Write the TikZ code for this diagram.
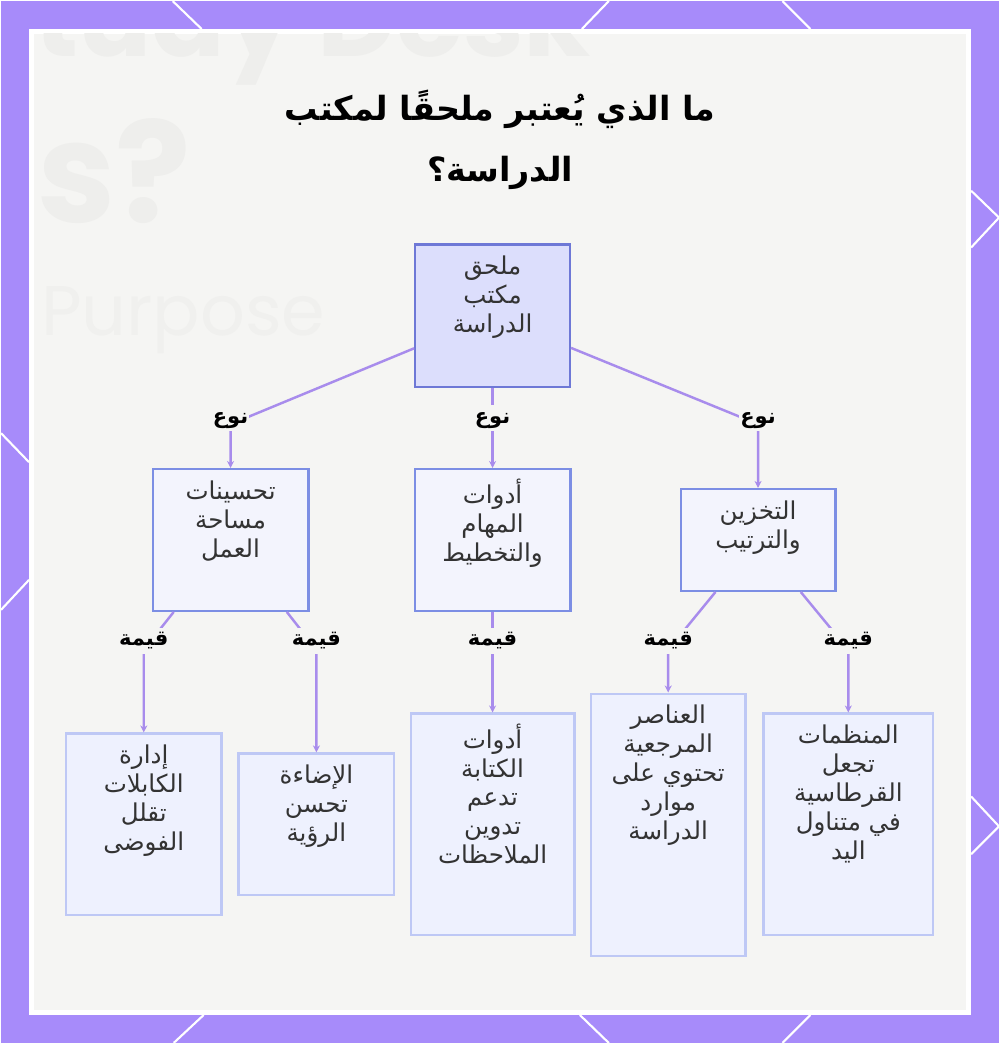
\documentclass[tikz,border=0pt]{standalone}
\usepackage{fontspec}
\usetikzlibrary{arrows.meta}
\newfontfamily\arabicfont[Script=Arabic]{DejaVu Sans}
\newfontfamily\ghostfont{Poppins}
\TeXXeTstate=1
\newlength\px
\setlength\px{0.02cm}
\newcommand\ar[1]{\beginR #1\endR\strut}
\newcommand\cell[3]{\parbox[c][#2\px][t]{#1\px}{\centering\vspace*{10\px}#3}}
\definecolor{framepurple}{RGB}{167,139,250}
\definecolor{panelgray}{RGB}{245,245,243}
\definecolor{ghost}{RGB}{238,238,236}
\definecolor{ghostlight}{RGB}{240,240,238}
\definecolor{rootfill}{RGB}{220,222,252}
\definecolor{rootline}{RGB}{110,120,214}
\definecolor{midfill}{RGB}{243,244,253}
\definecolor{midline}{RGB}{124,142,228}
\definecolor{leaffill}{RGB}{238,241,254}
\definecolor{leafline}{RGB}{190,200,245}
\definecolor{linkpurple}{RGB}{168,140,236}
\definecolor{inktext}{RGB}{51,51,51}

\begin{document}
\begin{tikzpicture}[x=1\px,y=-1\px,
  box/.style={inner sep=0pt, line width=1.3pt, text=inktext,
    font=\arabicfont\fontsize{14}{16.5}\selectfont},
  rootbox/.style={box, draw=rootline, fill=rootfill},
  midbox/.style={box, draw=midline, fill=midfill},
  leafbox/.style={box, draw=leafline, fill=leaffill},
  link/.style={draw=linkpurple, line width=1.4pt, -{Stealth[length=4pt,width=4pt]}},
  edgelbl/.style={fill=panelgray, inner sep=0.5pt, text=black,
    font=\arabicfont\bfseries\fontsize{12}{14}\selectfont}]

% frame and panel
\fill[framepurple] (0,0) rectangle (1000,1044);
\fill[white] (28,28) rectangle (972,1016);
\fill[panelgray] (33,33) rectangle (967,1011);
\draw[white, line width=1.2pt] (172,0) -- (201,28) (609,0) -- (582,28) (783,0) -- (811,28);
\draw[white, line width=1.2pt] (203,1016) -- (173,1044) (580,1016) -- (609,1044) (811,1016) -- (783,1044);
\draw[white, line width=1.2pt] (972,190) -- (1000,217) -- (972,247) (972,797) -- (1000,827) -- (972,855);
\draw[white, line width=1.2pt] (0,433) -- (28,462) (28,580) -- (0,610);

% faded photo behind
\begin{scope}
\clip (33,33) rectangle (967,1011);
\node[text=ghost, anchor=base west, inner sep=0pt, font=\ghostfont\bfseries\fontsize{62}{62}\selectfont] (ghostA) at (-34,56) {Study Desk};
\node[text=ghost, anchor=base west, inner sep=0pt, font=\ghostfont\bfseries\fontsize{80}{80}\selectfont] (ghostB) at (36,222) {s?};
\node[text=ghostlight, anchor=base west, inner sep=0pt, font=\ghostfont\fontsize{40}{40}\selectfont] (ghostC) at (40,335) {Purpose};
\end{scope}

% title
\node[font=\arabicfont\bfseries\fontsize{19}{35}\selectfont, align=center, text=black, inner sep=0pt] (title) at (500,139)
  {\beginR ما الذي يُعتبر ملحقًا لمكتب\endR\\\beginR الدراسة؟\endR};

% boxes
\node[rootbox] (root) at (492.5,315.5) {\cell{155}{143}{\ar{ملحق}\\\ar{مكتب}\\\ar{الدراسة}}};

\node[midbox] (work) at (230,540) {\cell{156}{142}{\ar{تحسينات}\\\ar{مساحة}\\\ar{العمل}}};
\node[midbox] (plan) at (492.5,540) {\cell{156}{142}{\ar{أدوات}\\\ar{المهام}\\\ar{والتخطيط}}};
\node[midbox] (store) at (758.5,540) {\cell{155}{102}{\ar{التخزين}\\\ar{والترتيب}}};

\node[leafbox] (cables) at (143,825) {\cell{156}{182}{\ar{إدارة}\\\ar{الكابلات}\\\ar{تقلل}\\\ar{الفوضى}}};
\node[leafbox] (light) at (316,825) {\cell{156}{142}{\ar{الإضاءة}\\\ar{تحسن}\\\ar{الرؤية}}};
\node[leafbox] (writing) at (492.5,825) {\cell{164}{222}{\ar{أدوات}\\\ar{الكتابة}\\\ar{تدعم}\\\ar{تدوين}\\\ar{الملاحظات}}};
\node[leafbox] (refs) at (668.5,825.5) {\cell{155}{263}{\ar{العناصر}\\\ar{المرجعية}\\\ar{تحتوي على}\\\ar{موارد}\\\ar{الدراسة}}};
\node[leafbox] (organizers) at (849,825) {\cell{170}{222}{\ar{المنظمات}\\\ar{تجعل}\\\ar{القرطاسية}\\\ar{في متناول}\\\ar{اليد}}};

% bends
\coordinate (tWork) at (230,424);
\coordinate (tPlan) at (492.5,424);
\coordinate (tStore) at (758.5,424);
\coordinate (tCables) at (143,650);
\coordinate (tLight) at (316,650);
\coordinate (tWriting) at (492.5,650);
\coordinate (tRefs) at (668.5,650);
\coordinate (tOrg) at (849,650);

% links
\draw[link] (root) -- (tWork) -- (work);
\draw[link] (root) -- (tPlan) -- (plan);
\draw[link] (root) -- (tStore) -- (store);
\draw[link] (work) -- (tCables) -- (cables);
\draw[link] (work) -- (tLight) -- (light);
\draw[link] (plan) -- (tWriting) -- (writing);
\draw[link] (store) -- (tRefs) -- (refs);
\draw[link] (store) -- (tOrg) -- (organizers);

% edge labels
\node[edgelbl] (lWork) at (230,418) {\ar{نوع}};
\node[edgelbl] (lPlan) at (492.5,418) {\ar{نوع}};
\node[edgelbl] (lStore) at (758.5,418) {\ar{نوع}};
\node[edgelbl] (lCables) at (143,641) {\ar{قيمة}};
\node[edgelbl] (lLight) at (316,641) {\ar{قيمة}};
\node[edgelbl] (lWriting) at (492.5,641) {\ar{قيمة}};
\node[edgelbl] (lRefs) at (668.5,641) {\ar{قيمة}};
\node[edgelbl] (lOrg) at (849,641) {\ar{قيمة}};
\end{tikzpicture}
\end{document}
